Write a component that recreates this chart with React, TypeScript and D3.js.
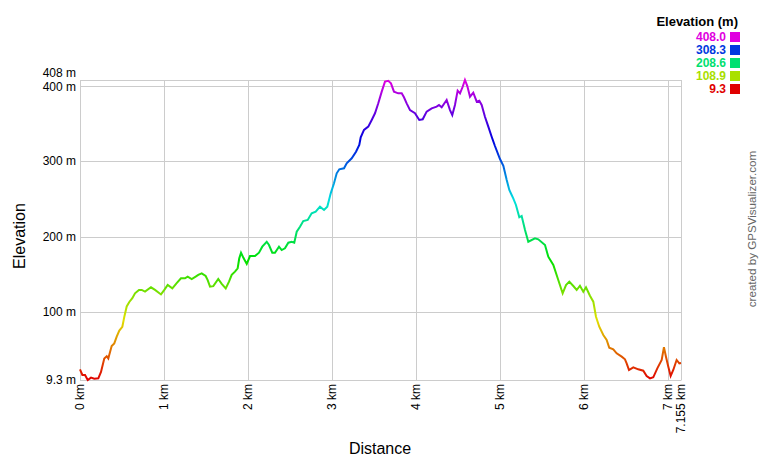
import React from "react";
import * as d3 from "d3";

const distKm: number[] = [
  0.0, 0.028, 0.06, 0.092, 0.131, 0.17, 0.218, 0.25, 0.289, 0.318, 0.337, 0.377, 0.408, 0.437, 0.468, 0.504,
  0.527, 0.556, 0.587, 0.623, 0.655, 0.702, 0.735, 0.774, 0.845, 0.893, 0.964, 1.004, 1.044, 1.099, 1.151,
  1.202, 1.25, 1.282, 1.33, 1.377, 1.408, 1.449, 1.496, 1.52, 1.548, 1.587, 1.646, 1.687, 1.735, 1.774,
  1.806, 1.845, 1.877, 1.896, 1.917, 1.944, 1.985, 2.024, 2.083, 2.131, 2.17, 2.223, 2.25, 2.289, 2.321,
  2.369, 2.401, 2.44, 2.48, 2.52, 2.551, 2.58, 2.619, 2.658, 2.711, 2.758, 2.806, 2.857, 2.905, 2.944,
  2.985, 3.024, 3.056, 3.087, 3.143, 3.175, 3.235, 3.286, 3.325, 3.342, 3.381, 3.432, 3.473, 3.512, 3.551,
  3.592, 3.631, 3.67, 3.702, 3.738, 3.789, 3.83, 3.857, 3.889, 3.929, 3.988, 4.039, 4.08, 4.127, 4.187,
  4.246, 4.274, 4.306, 4.365, 4.405, 4.432, 4.464, 4.496, 4.524, 4.556, 4.583, 4.611, 4.643, 4.682, 4.723,
  4.754, 4.782, 4.821, 4.861, 4.901, 4.94, 5.0, 5.04, 5.08, 5.111, 5.139, 5.158, 5.19, 5.23, 5.258, 5.298,
  5.337, 5.417, 5.456, 5.536, 5.575, 5.635, 5.694, 5.746, 5.786, 5.825, 5.873, 5.913, 5.952, 5.992, 6.024,
  6.071, 6.111, 6.143, 6.182, 6.23, 6.27, 6.301, 6.349, 6.389, 6.449, 6.488, 6.508, 6.536, 6.587, 6.646,
  6.706, 6.746, 6.786, 6.825, 6.873, 6.925, 6.952, 6.976, 7.004, 7.032, 7.063, 7.103, 7.135, 7.155,
];

const elevM: number[] = [
  23.5, 16, 16, 9.3, 12.4, 11, 11.5, 20, 38, 41, 38, 54.5, 58, 67, 75, 80,
  93, 107, 113, 118, 124.5, 129, 129, 126.7, 132.5, 129, 123, 129, 135.5, 131, 138,
  144.5, 144.5, 146.6, 143.5, 146.6, 149, 151, 147.5, 142, 133.3, 134, 143.5, 137, 131, 140,
  149, 153.3, 157.8, 171, 178.5, 172, 163.5, 174, 174, 178.5, 186.5, 193, 188.7, 178.5, 178.5,
  186.5, 182, 184.3, 191.8, 193, 191.8, 206.4, 213, 220.6, 222, 230.8, 233, 239.6, 235.2, 239.6,
  257.4, 270.7, 284, 289.3, 290.6, 297.3, 303.9, 312.7, 321.6, 331.8, 341.6, 346, 354.9, 363.8, 377,
  392.5, 405.8, 407, 403.6, 392.5, 390.3, 390.3, 385, 377, 368, 363.8, 354.9, 355.8, 366, 370.4,
  372.6, 374.8, 371.7, 381.4, 368, 361.5, 374.8, 393.8, 390.3, 399, 408, 400, 385.8, 391.2, 379.2,
  380.5, 374.8, 359.2, 346, 332.6, 320.3, 303, 294, 275, 261.8, 255.2, 250.8, 241.9, 225.5, 227.3, 208.7,
  193.1, 197.6, 196.3, 188.7, 173.2, 162.1, 142.2, 124.5, 135.5, 140, 134.2, 128.9, 134.6, 126.7, 132.5,
  121.3, 113.4, 93.4, 80.1, 69.1, 62.5, 52.2, 50.1, 44.8, 40.3, 36.8, 31.5, 22.6, 26.2, 23.5,
  21.7, 14.6, 11.5, 12.9, 24.8, 35.9, 52.8, 40.3, 27, 14.6, 22.6, 35.9, 31.5, 32,
];

const yTicks: number[] = [9.3, 100, 200, 300, 400, 408];
const yTickLabels: string[] = ["9.3 m", "100 m", "200 m", "300 m", "400 m", "408 m"];
const xTicks: number[] = [0, 1, 2, 3, 4, 5, 6, 7, 7.155];
const xTickLabels: string[] = ["0 km", "1 km", "2 km", "3 km", "4 km", "5 km", "6 km", "7 km", "7.155 km"];
const legendValues: number[] = [408.0, 308.3, 208.6, 108.9, 9.3];
const legendLabels: string[] = ["408.0", "308.3", "208.6", "108.9", "9.3"];

const W = 760;
const H = 460;
const FONT = "Arial, 'Liberation Sans', sans-serif";
const GRID = "#cccccc";

const minE = 9.3;
const maxE = 408;

function colorFor(e: number): string {
  const t = (e - minE) / (maxE - minE);
  return d3.hsl(300 * t, 1, 0.44).formatHex();
}

export default function App() {
  const x = d3.scaleLinear().domain([0, 7.155]).range([80, 681]);
  const y = d3.scaleLinear().domain([minE, maxE]).range([380, 80]);

  const pts: [number, number][] = distKm.map((d, i) => [d, elevM[i]]);
  const line = d3
    .line<[number, number]>()
    .x((d) => x(d[0]))
    .y((d) => y(d[1]));

  const stops = d3.range(0, 31).map((i) => {
    const t = i / 30;
    return { off: t, color: colorFor(minE + t * (maxE - minE)) };
  });

  const x0 = x(0);
  const x1 = x(7.155);
  const yTop = y(maxE);
  const yBot = y(minE);

  const yLabelOffset = (v: number) => (v === 408 ? -7 : v === 400 ? 1 : 0);

  return (
    <div style={{ position: "absolute", left: 0, top: 0 }}>
      <svg width={W} height={H} style={{ display: "block", background: "#fff" }} fontFamily={FONT}>
        <defs>
          <linearGradient id="eleGrad" gradientUnits="userSpaceOnUse" x1={0} y1={yBot} x2={0} y2={yTop}>
            {stops.map((s, i) => (
              <stop key={i} offset={s.off} stopColor={s.color} />
            ))}
          </linearGradient>
        </defs>

        {yTicks.map((v, i) => (
          <line
            key={"hy" + i}
            x1={x0}
            x2={x1}
            y1={Math.round(y(v)) + 0.5}
            y2={Math.round(y(v)) + 0.5}
            stroke={GRID}
            strokeWidth={1}
          />
        ))}
        {xTicks.map((v, i) => (
          <line
            key={"vx" + i}
            x1={Math.round(x(v)) + 0.5}
            x2={Math.round(x(v)) + 0.5}
            y1={yTop}
            y2={yBot + 0.5}
            stroke={GRID}
            strokeWidth={1}
          />
        ))}

        {yTicks.map((v, i) => (
          <text
            key={"yl" + i}
            x={76}
            y={y(v) + yLabelOffset(v)}
            dy="0.35em"
            textAnchor="end"
            fontSize={12}
            fill="#000"
          >
            {yTickLabels[i]}
          </text>
        ))}

        {xTicks.map((v, i) => (
          <text
            key={"xl" + i}
            transform={`translate(${x(v)},${384}) rotate(-90)`}
            dy="0.35em"
            textAnchor="end"
            fontSize={12}
            fill="#000"
          >
            {xTickLabels[i]}
          </text>
        ))}

        <path d={line(pts) || ""} fill="none" stroke="url(#eleGrad)" strokeWidth={2} strokeLinejoin="miter" />

        <text x={380} y={448} dy="0.35em" textAnchor="middle" fontSize={16} fill="#000">
          Distance
        </text>
        <text transform={`translate(19,236) rotate(-90)`} dy="0.35em" textAnchor="middle" fontSize={16} fill="#000">
          Elevation
        </text>

        <text x={738} y={21} dy="0.35em" textAnchor="end" fontSize={13} fontWeight="bold" fill="#000">
          Elevation (m)
        </text>
        {legendValues.map((v, i) => (
          <g key={"lg" + i}>
            <text
              x={726}
              y={37 + i * 13}
              dy="0.35em"
              textAnchor="end"
              fontSize={12}
              fontWeight="bold"
              fill={colorFor(v)}
            >
              {legendLabels[i]}
            </text>
            <rect x={730} y={32 + i * 13} width={10} height={10} fill={colorFor(v)} />
          </g>
        ))}

        <text
          transform={`translate(752,229) rotate(-90)`}
          dy="0.35em"
          textAnchor="middle"
          fontSize={11.6}
          fill="#666"
        >
          created by GPSVisualizer.com
        </text>
      </svg>
    </div>
  );
}
